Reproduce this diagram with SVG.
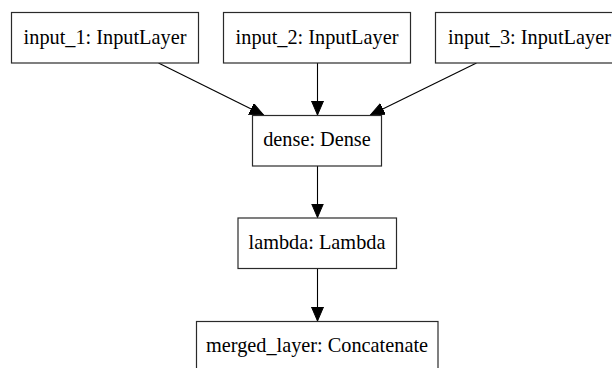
<svg xmlns="http://www.w3.org/2000/svg" width="612" height="368" viewBox="0 0 612 368">
  <style>
    .box { fill: #ffffff; stroke: #2a2a2a; stroke-width: 1.2; }
    .lbl { font-family: "Liberation Serif", "Times New Roman", serif; font-size: 20.3px; fill: #000000; text-anchor: middle; }
    .edge { fill: none; stroke: #000000; stroke-width: 1.1; }
  </style>
  <defs>
    <marker id="arrow" markerUnits="userSpaceOnUse" markerWidth="15" markerHeight="13" refX="14" refY="6" orient="auto">
      <path d="M0,0 L14,6 L0,12 Z" fill="#000000" stroke="#000000" stroke-width="1"/>
    </marker>
  </defs>
  <rect width="612" height="368" fill="#ffffff"/>

  <g id="connectors">
    <line class="edge" x1="158.5" y1="63" x2="263.5" y2="115" marker-end="url(#arrow)"/>
    <line class="edge" x1="317.5" y1="63" x2="317.5" y2="115" marker-end="url(#arrow)"/>
    <line class="edge" x1="476.5" y1="63" x2="370.5" y2="115" marker-end="url(#arrow)"/>
    <line class="edge" x1="317.5" y1="166" x2="317.5" y2="217.5" marker-end="url(#arrow)"/>
    <line class="edge" x1="317.5" y1="268.5" x2="317.5" y2="321" marker-end="url(#arrow)"/>
  </g>

  <g id="input_1">
    <rect class="box" x="11.5" y="12.5" width="187" height="50.5"/>
    <text class="lbl" x="105" y="43.5">input_1: InputLayer</text>
  </g>
  <g id="input_2">
    <rect class="box" x="223.5" y="12.5" width="187" height="50.5"/>
    <text class="lbl" x="317" y="43.5">input_2: InputLayer</text>
  </g>
  <g id="input_3">
    <rect class="box" x="435.5" y="12.5" width="188" height="50.5"/>
    <text class="lbl" x="529.5" y="43.5">input_3: InputLayer</text>
  </g>
  <g id="dense">
    <rect class="box" x="252.5" y="115.5" width="129" height="50.5"/>
    <text class="lbl" x="317" y="146">dense: Dense</text>
  </g>
  <g id="lambda">
    <rect class="box" x="238" y="218" width="158.5" height="50.5"/>
    <text class="lbl" x="317" y="248.5">lambda: Lambda</text>
  </g>
  <g id="merged_layer">
    <rect class="box" x="196.5" y="321.5" width="241.5" height="50.5"/>
    <text class="lbl" x="317" y="352">merged_layer: Concatenate</text>
  </g>
</svg>
